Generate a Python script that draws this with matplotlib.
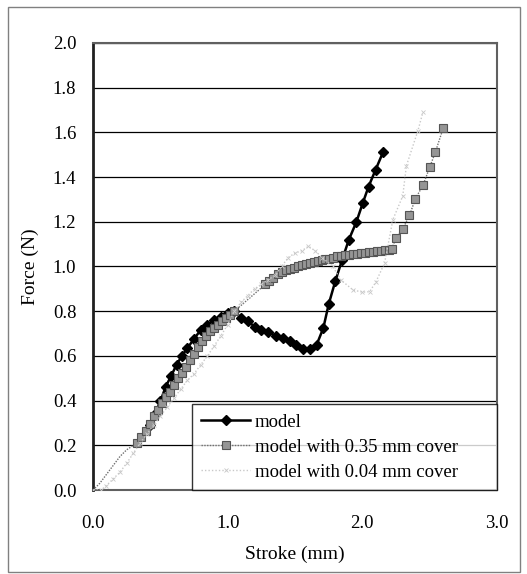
import matplotlib
matplotlib.use("Agg")
import matplotlib.pyplot as plt
from matplotlib.patches import Rectangle

plt.rcParams['font.family'] = ['Liberation Serif', 'DejaVu Serif']

# ---- data ----
model_x = [0.42, 0.46, 0.50, 0.54, 0.58, 0.62, 0.66, 0.70, 0.75, 0.80, 0.85, 0.90, 0.95, 1.00, 1.05,
           1.10, 1.15, 1.20, 1.25, 1.30, 1.36, 1.41, 1.46, 1.51, 1.56, 1.61, 1.66, 1.71, 1.75, 1.80,
           1.85, 1.90, 1.955, 2.004, 2.046, 2.098, 2.153]
model_y = [0.29, 0.34, 0.396, 0.463, 0.51, 0.56, 0.60, 0.634, 0.676, 0.716, 0.739, 0.761, 0.776, 0.79, 0.80,
           0.769, 0.754, 0.731, 0.716, 0.709, 0.687, 0.679, 0.667, 0.649, 0.63, 0.63, 0.649, 0.724, 0.831, 0.936,
           1.03, 1.12, 1.198, 1.285, 1.357, 1.432, 1.51]

cover35_x = [0.00, 0.05, 0.10, 0.15, 0.20, 0.25, 0.30,
             0.33, 0.36, 0.39, 0.42, 0.45, 0.48, 0.51, 0.54, 0.57, 0.60, 0.63, 0.66, 0.69, 0.72, 0.75,
             0.78, 0.81, 0.84, 0.87, 0.90, 0.93, 0.96, 0.99, 1.02, 1.05,
             1.28, 1.31, 1.34, 1.37, 1.40, 1.43, 1.46, 1.49, 1.52, 1.55, 1.58, 1.61, 1.64, 1.67, 1.70,
             1.72, 1.75, 1.78, 1.81, 1.84, 1.87, 1.90, 1.93, 1.96, 1.99, 2.02, 2.05, 2.08, 2.11, 2.14,
             2.17, 2.20, 2.22,
             2.25, 2.30, 2.35, 2.394, 2.45, 2.50, 2.543, 2.60]
cover35_y = [0.00, 0.03, 0.07, 0.11, 0.15, 0.18, 0.20,
             0.21, 0.235, 0.265, 0.295, 0.33, 0.36, 0.39, 0.415, 0.44, 0.47, 0.50, 0.525, 0.55, 0.58, 0.61,
             0.64, 0.665, 0.69, 0.71, 0.725, 0.74, 0.755, 0.77, 0.785, 0.80,
             0.92, 0.935, 0.95, 0.965, 0.975, 0.985, 0.99, 0.995, 1.0, 1.005, 1.01, 1.015, 1.02, 1.025, 1.03,
             1.035, 1.035, 1.04, 1.045, 1.045, 1.05, 1.05, 1.055, 1.055, 1.06, 1.06, 1.065, 1.065, 1.07, 1.07,
             1.072, 1.075, 1.08,
             1.128, 1.168, 1.228, 1.303, 1.363, 1.443, 1.513, 1.618]

cover04_x = [0.0, 0.06, 0.10, 0.15, 0.20, 0.25, 0.30, 0.35, 0.40, 0.45, 0.50, 0.55, 0.60, 0.65, 0.70,
             0.75, 0.80, 0.85, 0.90, 0.95, 1.00, 1.05, 1.10, 1.15, 1.20, 1.25, 1.30, 1.35, 1.40, 1.45,
             1.50, 1.55, 1.60, 1.65, 1.70, 1.78, 1.84, 1.93, 2.00, 2.054, 2.10, 2.165, 2.227, 2.30,
             2.327, 2.413, 2.45]
cover04_y = [0.0, 0.0, 0.02, 0.05, 0.08, 0.12, 0.165, 0.21, 0.25, 0.29, 0.33, 0.37, 0.41, 0.45, 0.49,
             0.52, 0.56, 0.60, 0.645, 0.69, 0.74, 0.80, 0.84, 0.87, 0.90, 0.92, 0.94, 0.96, 1.00, 1.04,
             1.06, 1.07, 1.09, 1.07, 1.04, 1.00, 0.94, 0.895, 0.885, 0.887, 0.93, 1.015, 1.21, 1.315,
             1.45, 1.608, 1.69]

labels = ["model", "model with 0.35 mm cover", "model with 0.04 mm cover"]
x_ticks = [0.0, 1.0, 2.0, 3.0]
y_ticks = [0.0, 0.2, 0.4, 0.6, 0.8, 1.0, 1.2, 1.4, 1.6, 1.8, 2.0]

# ---- figure ----
fig = plt.figure(figsize=(5.27, 5.74), dpi=100)
ax = fig.add_axes([0.1765, 0.1463, 0.7666, 0.779])

ax.plot(model_x, model_y, color='black', lw=1.8, marker='D', ms=5.5,
        mfc='black', mec='black', label=labels[0], zorder=3)
ax.plot(cover35_x, cover35_y, color='#707070', lw=1.0, ls=(0, (1, 1)), marker='s', ms=5.2,
        mfc='#959595', mec='#555555', mew=0.8, markevery=list(range(7, len(cover35_x))),
        label=labels[1], zorder=4)
ax.plot(cover04_x, cover04_y, color='#c8c8c8', lw=1.0, ls=(0, (1, 1.5)), marker='x', ms=3.5,
        mew=0.6, label=labels[2], zorder=5)

ax.set_xlim(0, 3.0)
ax.set_ylim(0, 2.0)
ax.set_xticks(x_ticks)
ax.set_xticklabels([f"{v:.1f}" for v in x_ticks])
ax.set_yticks(y_ticks)
ax.set_yticklabels([f"{v:.1f}" for v in y_ticks])
ax.tick_params(axis='both', length=0, labelsize=13.5, colors='black')
ax.tick_params(axis='x', pad=18)
ax.tick_params(axis='y', pad=12)
ax.yaxis.grid(True, color='black', lw=0.9)
ax.set_axisbelow(True)
for s in ['top', 'right', 'bottom']:
    ax.spines[s].set_color('#606060')
    ax.spines[s].set_linewidth(1.5)
ax.spines['left'].set_color('#202020')
ax.spines['left'].set_linewidth(2.0)

ax.set_xlabel("Stroke (mm)", fontsize=14, labelpad=10)
ax.set_ylabel("Force (N)", fontsize=14, labelpad=10)

leg = ax.legend(loc='lower left', bbox_to_anchor=(0.245, 0.0, 0.755, 0.197), mode='expand',
                borderaxespad=0, fontsize=13.5, frameon=True, fancybox=False, edgecolor='black',
                handlelength=2.6, handletextpad=0.25, labelspacing=0.42, borderpad=0.5)
leg.get_frame().set_linewidth(1.0)
leg.set_zorder(10)

fig.add_artist(Rectangle((8 / 527, 1 - 572 / 574), 512 / 527, 565 / 574,
                         transform=fig.transFigure, fill=False, ec='#808080', lw=1.0))

fig.savefig("out.png", dpi=100)
